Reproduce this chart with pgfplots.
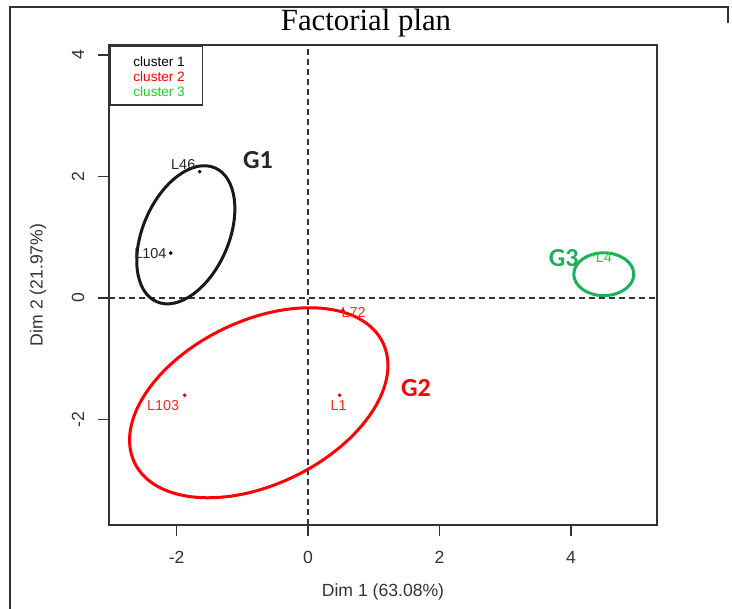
\documentclass[border=0pt]{standalone}
\usepackage{pgfplots}
\pgfplotsset{compat=1.18}
\usepackage{fontspec}
\setmainfont{Liberation Sans}
\newfontfamily\seriffont{Liberation Serif}
\newfontfamily\carlito{Carlito}
\definecolor{ggreen}{HTML}{1DB05A}
\definecolor{lgreen}{HTML}{22CC22}
\definecolor{axgray}{HTML}{333333}
\begin{document}
\begin{tikzpicture}
\path[use as bounding box] (0,0) rectangle (366pt,304.5pt);
% outer frame
\draw[line width=0.6pt, black!80] (5pt,0) -- (5pt,301pt) -- (364pt,301pt) -- (364pt,293pt);
\node[font=\seriffont\fontsize{15.4}{18}\selectfont, anchor=base] at (183pt,289.3pt) {Factorial plan};
\begin{axis}[
  at={(54.5pt,42pt)}, anchor=south west,
  scale only axis, width=274pt, height=240pt,
  xmin=-3.03, xmax=5.31, ymin=-3.736, ymax=4.165,
  clip=false,
  axis line style={axgray, line width=0.8pt},
  tick style={axgray, line width=0.8pt},
  tick align=outside, major tick length=5.5pt,
  xtick pos=bottom, ytick pos=left,
  xtick={-2,0,2,4}, xticklabels={-2,0,2,4},
  ytick={-2,0,2,4}, yticklabels={-2,0,2,4},
  ticklabel style={font=\fontsize{8.8}{10}\selectfont, text=axgray},
  xticklabel style={anchor=center, yshift=-10.5pt},
  yticklabel style={rotate=90, anchor=center, yshift=10pt},
  xlabel={Dim 1 (63.08\%)}, ylabel={Dim 2 (21.97\%)},
  label style={font=\fontsize{8.8}{10}\selectfont, text=axgray},
  xlabel style={at={(axis description cs:0.5,0)}, anchor=center, yshift=-33.5pt},
  ylabel style={at={(axis description cs:0,0.5)}, anchor=center, yshift=35.5pt},
]
% reference lines
\addplot[black!80, line width=0.6pt, dash pattern=on 3pt off 2pt] coordinates {(-3.03,0) (5.31,0)};
\addplot[black!80, line width=0.6pt, dash pattern=on 3pt off 2pt] coordinates {(0,-3.736) (0,4.165)};
% cluster points
\addplot[only marks, mark=*, mark size=0.7pt, black] coordinates {(-1.65,2.08) (-2.09,0.74)};
\addplot[only marks, mark=*, mark size=0.7pt, red] coordinates {(-1.88,-1.60) (0.48,-1.60) (0.53,-0.20)};
\addplot[only marks, mark=*, mark size=0.7pt, lgreen] coordinates {(4.34,0.71)};
% ellipses
\draw[black!90, line width=1.5pt, rotate around={66.4:(axis cs:-1.861,1.041)}] (axis cs:-1.861,1.041) ellipse [x radius=36.5pt, y radius=21.5pt];
\draw[red, line width=1.5pt, rotate around={25.8:(axis cs:-0.751,-1.724)}] (axis cs:-0.751,-1.724) ellipse [x radius=68.96pt, y radius=40.9pt];
\draw[ggreen, line width=1.5pt] (axis cs:4.50,0.392) ellipse [x radius=15pt, y radius=10.7pt];
% point labels
\begin{scope}[every node/.style={font=\fontsize{7.2}{8}\selectfont, inner sep=0pt}]
\node[text=black!85] at (axis cs:-1.90,2.19) {L46};
\node[text=black!85] at (axis cs:-2.40,0.727) {L104};
\node[text=red!85] at (axis cs:-2.205,-1.764) {L103};
\node[text=red!85] at (axis cs:0.464,-1.764) {L1};
\node[text=red!85] at (axis cs:0.693,-0.236) {L72};
\node[text=lgreen] at (axis cs:4.50,0.673) {L4};
\end{scope}
% group labels
\begin{scope}[every node/.style={font=\carlito\bfseries\fontsize{13}{15}\selectfont, inner sep=0pt}]
\node[text=black!85] at (axis cs:-0.762,2.264) {G1};
\node[text=red] at (axis cs:1.643,-1.488) {G2};
\node[text=ggreen] at (axis cs:3.89,0.656) {G3};
\end{scope}
% legend
\node[draw=axgray, line width=0.8pt, anchor=north west, minimum width=46.3pt, minimum height=29.5pt, inner sep=0pt] at (rel axis cs:0,1) {};
\begin{scope}[every node/.style={font=\fontsize{6.8}{8}\selectfont, inner sep=0pt, anchor=west}]
\node[text=black, xshift=12pt, yshift=-8.3pt] at (rel axis cs:0,1) {cluster 1};
\node[text=red, xshift=12pt, yshift=-15.8pt] at (rel axis cs:0,1) {cluster 2};
\node[text=lgreen, xshift=12pt, yshift=-23.3pt] at (rel axis cs:0,1) {cluster 3};
\end{scope}
\end{axis}
\end{tikzpicture}
\end{document}
